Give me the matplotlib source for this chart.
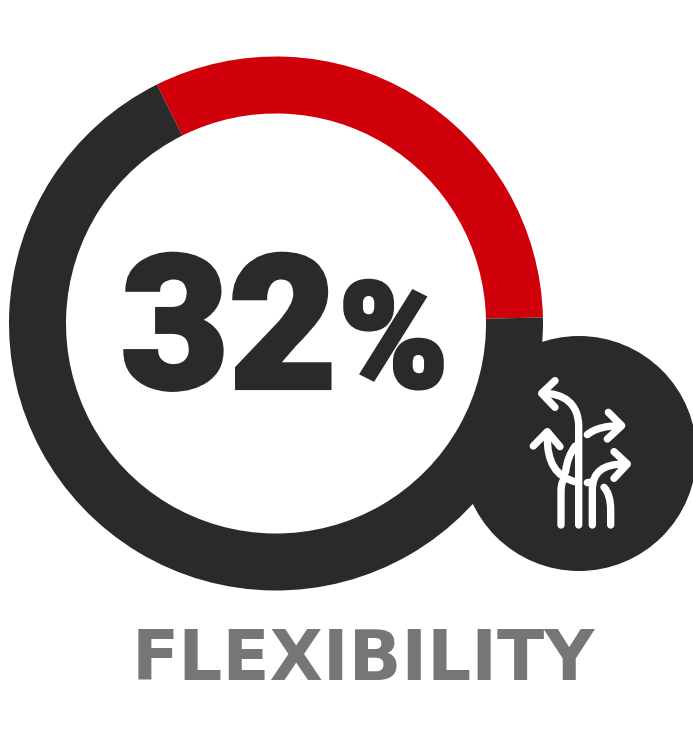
import matplotlib
matplotlib.use("Agg")
import matplotlib.pyplot as plt
from matplotlib.patches import Circle, PathPatch
from matplotlib.path import Path
import matplotlib.patheffects as pe

# Share shown on the ring and its wording
share = [32, 68]
share_colors = ["#d0000a", "#2a2a2a"]
number_text = "32"
percent_text = "%"
title_text = "FLEXIBILITY"

W, H = 693, 734
DARK = "#2a2a2a"
GREY = "#757776"

fig = plt.figure(figsize=(W / 100, H / 100), dpi=100)
ax = fig.add_axes([0, 0, 1, 1])

# Ring
ax.pie(share, colors=share_colors, center=(276, H - 323.5), radius=267,
       startangle=116.5, counterclock=False,
       wedgeprops=dict(width=57, linewidth=0))

ax.set_xlim(0, W)
ax.set_ylim(0, H)
ax.set_aspect("equal")
ax.axis("off")

# Badge at the lower right of the ring
ax.add_patch(Circle((579, H - 453.5), 117.5, color=DARK, lw=0, zorder=3))


def icon_xy(zx, zy):
    """Icon outline units to axes units."""
    return 500 + zx / 3, H - (360 + zy / 3)


def stroke(verts, codes=None):
    pts = [icon_xy(*v) for v in verts]
    if codes is None:
        codes = [Path.MOVETO] + [Path.LINETO] * (len(pts) - 1)
    ax.add_patch(PathPatch(Path(pts, codes), fc="none", ec="white", lw=5.3,
                           capstyle="round", joinstyle="round", zorder=4))


M, L, C = Path.MOVETO, Path.LINETO, Path.CURVE4

# Tall stem bending to the left
stroke([(236, 495), (236, 200), (236, 200), (236, 130), (190, 100), (130, 100)],
       [M, L, L, C, C, C])
stroke([(165, 62), (125, 100), (165, 142)])
# Upper right branch
stroke([(262, 224), (285, 205), (320, 197), (362, 197)], [M, C, C, C])
stroke([(325, 157), (365, 197), (322, 237)])
stroke([(197, 335), (200, 305), (210, 280), (226, 258)], [M, C, C, C])
# Left branch and its stem
stroke([(225, 365), (170, 350), (140, 310), (142, 225)], [M, C, C, C])
stroke([(100, 258), (142, 215), (180, 260)])
stroke([(183, 495), (183, 400), (183, 400), (183, 380), (185, 368), (190, 362)],
       [M, L, L, C, C, C])
# Lower right branch and its stem
stroke([(277, 495), (277, 390), (277, 390), (277, 335), (310, 312), (375, 312)],
       [M, L, L, C, C, C])
stroke([(342, 275), (382, 312), (342, 355)])
stroke([(262, 368), (277, 366)])
stroke([(332, 495), (332, 450), (332, 450), (332, 420), (325, 395), (312, 382)],
       [M, L, L, C, C, C])

# Central figure, thickened with a sharp-cornered outline
heavy = [pe.withStroke(linewidth=3, foreground=DARK, joinstyle="miter", capstyle="butt")]
ax.text(229, H - 388, number_text, family="Roboto", weight="black", fontsize=134,
        color=DARK, ha="center", va="baseline", zorder=5, path_effects=heavy)
ax.text(393.5, H - 387, percent_text, family="Roboto", weight="black", fontsize=106,
        color=DARK, ha="center", va="baseline", zorder=5, path_effects=heavy)

# Caption
ax.text(363.5, H - 680, title_text, family="DejaVu Sans", weight="bold", fontsize=49.8,
        color=GREY, ha="center", va="baseline", zorder=5)

fig.savefig("out.png", dpi=100, facecolor="white")
